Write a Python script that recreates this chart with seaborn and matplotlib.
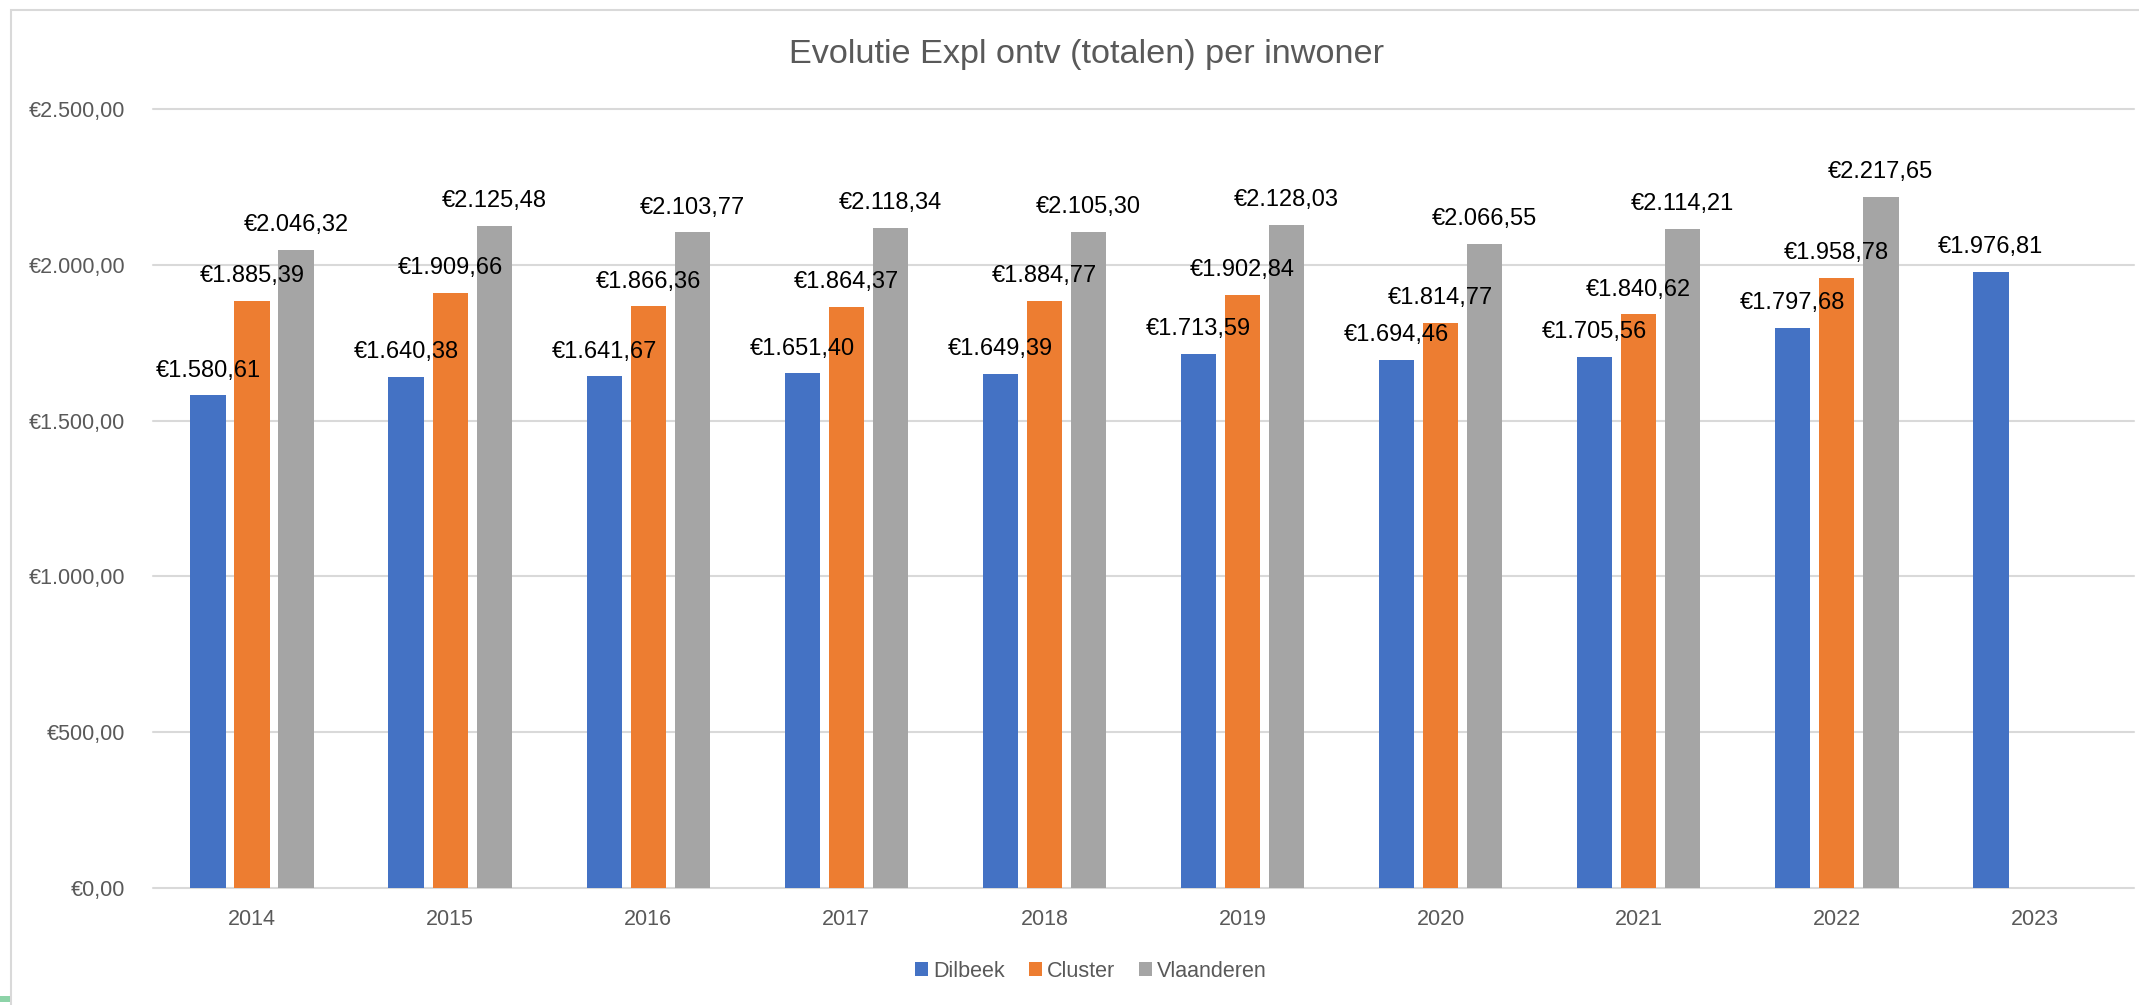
import numpy as np
import pandas as pd
import matplotlib
matplotlib.use("Agg")
import matplotlib.pyplot as plt
from matplotlib.patches import Patch, Rectangle
import seaborn as sns

# Datos del grafico
# -----------------------------------------------------------------------
jaren = ["2014", "2015", "2016", "2017", "2018", "2019", "2020", "2021", "2022", "2023"]
reeksen = ["Dilbeek", "Cluster", "Vlaanderen"]
dilbeek = [1580.61, 1640.38, 1641.67, 1651.40, 1649.39, 1713.59, 1694.46, 1705.56, 1797.68, 1976.81]
cluster = [1885.39, 1909.66, 1866.36, 1864.37, 1884.77, 1902.84, 1814.77, 1840.62, 1958.78, np.nan]
vlaanderen = [2046.32, 2125.48, 2103.77, 2118.34, 2105.30, 2128.03, 2066.55, 2114.21, 2217.65, np.nan]
y_ticks = [0, 500, 1000, 1500, 2000, 2500]
kleuren = ["#4472C4", "#ED7D31", "#A5A5A5"]
titel = "Evolutie Expl ontv (totalen) per inwoner"

df = pd.DataFrame({"jaar": jaren, "Dilbeek": dilbeek, "Cluster": cluster, "Vlaanderen": vlaanderen})
df_long = df.melt(id_vars="jaar", var_name="reeks", value_name="waarde").dropna()


def euro(v):
    # formato europeo: €1.580,61
    s = f"{v:,.2f}"
    s = s.replace(",", "X").replace(".", ",").replace("X", ".")
    return "€" + s


sns.set_theme(style="white")
plt.rcParams["font.family"] = ["Liberation Sans", "DejaVu Sans"]

W, H = 2139, 1005
fig = plt.figure(figsize=(W / 100, H / 100), dpi=100)
ax = fig.add_axes([153 / W, 1 - 888 / H, 1981 / W, 779 / H])

sns.barplot(data=df_long, x="jaar", y="waarde", hue="reeks", order=jaren, hue_order=reeksen,
            palette=kleuren, width=0.667, gap=0.2, linewidth=0, saturation=1,
            legend=False, ax=ax)

# Etiquetas sobre cada barra
for cont in ax.containers:
    ax.bar_label(cont, fmt=euro, padding=10, fontsize=17, color="black")

ax.set_ylim(0, 2500)
ax.set_xlim(-0.5, len(jaren) - 0.5)
ax.set_yticks(y_ticks)
ax.set_yticklabels([euro(t) for t in y_ticks])
ax.set_xlabel("")
ax.set_ylabel("")
ax.tick_params(axis="y", length=0, pad=20, labelsize=15.5, labelcolor="#595959")
ax.tick_params(axis="x", length=0, pad=15, labelsize=15.5, labelcolor="#595959")
for s in ax.spines.values():
    s.set_visible(False)
ax.grid(axis="y", color="#D9D9D9", linewidth=1.5)
ax.grid(axis="x", visible=False)
ax.set_axisbelow(True)
for gl in ax.get_ygridlines():
    gl.set_clip_on(False)

# Titulo
fig.text(1087 / W, 1 - 55 / H, titel, ha="center", va="center", fontsize=24.7, color="#595959")

# Leyenda
handles = [Patch(facecolor=c, edgecolor="none") for c in kleuren]
fig.legend(handles, reeksen, loc="center", bbox_to_anchor=(1091 / W, 1 - 971 / H), ncol=3,
           frameon=False, fontsize=15.5, labelcolor="#595959", handlelength=0.6, handleheight=0.6,
           handletextpad=0.25, columnspacing=1.1)

# Borde del area del grafico
fig.add_artist(Rectangle((11 / W, -0.1), 1.2, 1.1 - 10 / H, transform=fig.transFigure,
                         fill=False, edgecolor="#D9D9D9", linewidth=1.5))
fig.add_artist(Rectangle((0, 1 - 1002 / H), 10 / W, 6 / H, transform=fig.transFigure,
                         facecolor="#8DD3A8", edgecolor="none"))

fig.savefig("out.png", dpi=100, facecolor="white")
